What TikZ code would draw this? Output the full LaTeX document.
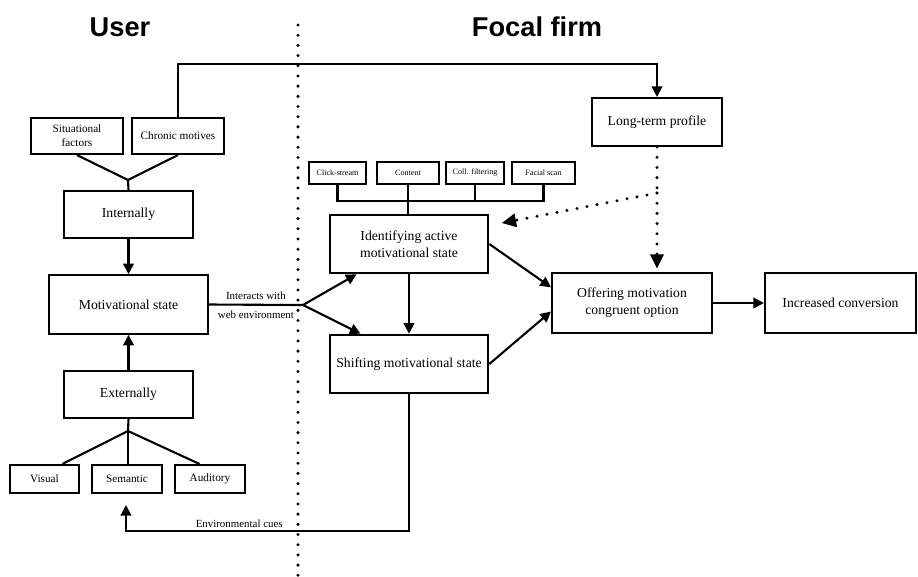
\documentclass[tikz,border=0pt]{standalone}
\usepackage{fontspec}
\setmainfont{Liberation Serif}
\newfontfamily\headfont{Liberation Sans}
\usetikzlibrary{arrows.meta}
\tikzset{
  box/.style={draw, line width=1.2pt, align=center, inner sep=1pt, font=\fontsize{7.8}{9.6}\selectfont},
  midbox/.style={box, minimum width=3.17cm, minimum height=1.17cm},
  sidebox/.style={box, minimum width=2.58cm, minimum height=0.94cm},
  smallbox/.style={box, font=\fontsize{6.4}{7.9}\selectfont},
  tinybox/.style={box, minimum height=0.44cm, font=\fontsize{4.6}{5.5}\selectfont},
  lbl/.style={inner sep=1.5pt, font=\fontsize{6.2}{7.5}\selectfont},
  title/.style={font=\headfont\bfseries\fontsize{15.5}{18}\selectfont},
  arr/.style={-{Triangle[length=6pt,width=6pt]}},
  darr/.style={-{Triangle[length=8pt,width=8pt,line width=0pt]}},
  dotline/.style={line width=1.9pt, line cap=round, dash pattern=on 0pt off 5.8pt},
}
\begin{document}
\begin{tikzpicture}[x=0.02cm, y=-0.02cm, line width=1.2pt]
    \useasboundingbox (0,0) rectangle (918,576);

    \node[title] (usertitle) at (120,27) {User};
    \node[title] (firmtitle) at (537,27) {Focal firm};
    \draw[dotline] (298,25) -- (298,576);

    \node[smallbox, minimum width=1.84cm, minimum height=0.72cm] (sit) at (77,136) {Situational\\factors};
    \node[smallbox, minimum width=1.84cm, minimum height=0.72cm] (chronic) at (178,136) {Chronic motives};
    \node[sidebox] (internal) at (128.5,214.5) {Internally};
    \node[midbox] (motiv) at (128.5,304.5) {Motivational state};
    \node[sidebox] (external) at (128.5,394.5) {Externally};
    \node[smallbox, minimum width=1.38cm, minimum height=0.56cm] (visual) at (44.5,479) {Visual};
    \node[smallbox, minimum width=1.40cm, minimum height=0.56cm] (semantic) at (127,479) {Semantic};
    \node[smallbox, minimum width=1.40cm, minimum height=0.56cm] (auditory) at (210,479) {Auditory};

    \node[tinybox, minimum width=1.14cm] (click) at (337.5,173) {Click-stream};
    \node[tinybox, minimum width=1.24cm] (content) at (408,173) {Content};
    \node[tinybox, minimum width=1.16cm] (coll) at (475,173) {Coll. filtering};
    \node[tinybox, minimum width=1.26cm] (facial) at (543.5,173) {Facial scan};
    \node[midbox] (ident) at (409,244) {Identifying active\\motivational state};
    \node[midbox] (shift) at (409,364) {Shifting motivational state};
    \node[box, minimum width=2.6cm, minimum height=0.96cm] (longterm) at (657,122) {Long-term profile};
    \node[midbox, minimum width=3.2cm, minimum height=1.2cm] (offer) at (632,303) {Offering motivation\\congruent option};
    \node[box, minimum width=3.02cm, minimum height=1.2cm] (incr) at (840.5,303) {Increased conversion};

    \coordinate (topline) at (0,64);
    \coordinate (joinin) at (128,180);
    \coordinate (joinex) at (128,431);
    \coordinate (fork) at (303,305);
    \coordinate (bus) at (0,201);
    \coordinate (dotj) at (657,193);
    \coordinate (dottip) at (502,223);
    \coordinate (envc) at (126,531);
    \coordinate (envtip) at (126,505);

    \draw[arr] (chronic.north) -- (chronic.north |- topline) -| (longterm.north);
    \draw (sit.south) -- (joinin) -- (internal.north);
    \draw (chronic.south) -- (joinin);
    \draw[arr] (internal) -- (motiv);
    \draw[arr] (external) -- (motiv);
    \draw (external.south) -- (joinex);
    \draw (joinex) -- (visual.40);
    \draw (joinex) -- (semantic.north -| joinex);
    \draw (joinex) -- (auditory.125);

    \draw (motiv.east) -- node[lbl, above, inner sep=2.5pt] {Interacts with} node[lbl, below, inner sep=3pt] {web environment} (fork);
    \draw[arr] (fork) -- (ident.210);
    \draw[arr] (fork) -- (shift.148);

    \draw (click.south) -- (click.south |- bus) -- (facial.south |- bus) -- (facial.south);
    \draw (coll.south) -- (coll.south |- bus);
    \draw (content.south) -- (content.south |- ident.north);

    \draw[arr] (ident) -- (shift);
    \draw[arr] (ident.east) -- (offer.169);
    \draw[arr] (shift.east) -- (offer.186);
    \draw[arr] (offer) -- (incr);

    \draw[dotline] (longterm.south) -- (dotj);
    \draw[dotline, darr] (dotj) -- (dottip);
    \draw[dotline, darr, shorten >=2pt] (dotj) -- (dotj |- offer.north);

    \draw[arr] (shift.south) |- node[lbl, above, pos=0.8] {Environmental cues} (envc) -- (envtip);
\end{tikzpicture}
\end{document}
